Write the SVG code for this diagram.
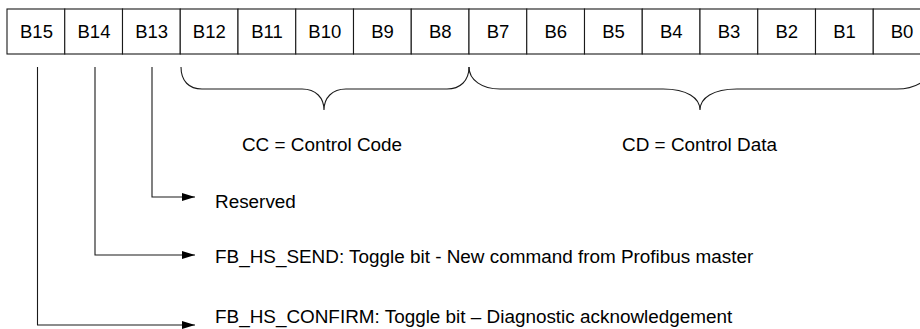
<svg xmlns="http://www.w3.org/2000/svg" width="920" height="329" viewBox="0 0 920 329">
<style>
.box{fill:#fff;stroke:#1a1a1a;stroke-width:1.1}
.t{font-family:"Liberation Sans",Arial,sans-serif;font-size:18.5px;fill:#000}
.d{font-size:18.9px}
.c{text-anchor:middle}
.ln{fill:none;stroke:#1a1a1a;stroke-width:1.1}
</style>
<defs>
<marker id="ah" viewBox="0 0 13 8" refX="13" refY="4" markerWidth="13" markerHeight="8" markerUnits="userSpaceOnUse" orient="auto">
<path d="M0,0 L13,4 L0,8 Z" fill="#000"/>
</marker>
</defs>
<rect width="920" height="329" fill="#fff"/>
<g id="register">
<g id="b15"><rect class="box" x="7" y="9" width="57.75" height="45"/><text class="t c" x="36.5" y="37.5">B15</text></g>
<g id="b14"><rect class="box" x="64.75" y="9" width="57.75" height="45"/><text class="t c" x="94" y="37.5">B14</text></g>
<g id="b13"><rect class="box" x="122.5" y="9" width="57.75" height="45"/><text class="t c" x="151.6" y="37.5">B13</text></g>
<g id="b12"><rect class="box" x="180.25" y="9" width="57.75" height="45"/><text class="t c" x="209.3" y="37.5">B12</text></g>
<g id="b11"><rect class="box" x="238" y="9" width="57.75" height="45"/><text class="t c" x="267" y="37.5">B11</text></g>
<g id="b10"><rect class="box" x="295.75" y="9" width="57.75" height="45"/><text class="t c" x="324.8" y="37.5">B10</text></g>
<g id="b9"><rect class="box" x="353.5" y="9" width="57.75" height="45"/><text class="t c" x="382.5" y="37.5">B9</text></g>
<g id="b8"><rect class="box" x="411.25" y="9" width="57.75" height="45"/><text class="t c" x="440.2" y="37.5">B8</text></g>
<g id="b7"><rect class="box" x="469" y="9" width="57.75" height="45"/><text class="t c" x="498" y="37.5">B7</text></g>
<g id="b6"><rect class="box" x="526.75" y="9" width="57.75" height="45"/><text class="t c" x="555.7" y="37.5">B6</text></g>
<g id="b5"><rect class="box" x="584.5" y="9" width="57.75" height="45"/><text class="t c" x="613.5" y="37.5">B5</text></g>
<g id="b4"><rect class="box" x="642.25" y="9" width="57.75" height="45"/><text class="t c" x="671.2" y="37.5">B4</text></g>
<g id="b3"><rect class="box" x="700" y="9" width="57.75" height="45"/><text class="t c" x="729" y="37.5">B3</text></g>
<g id="b2"><rect class="box" x="757.75" y="9" width="57.75" height="45"/><text class="t c" x="786.7" y="37.5">B2</text></g>
<g id="b1"><rect class="box" x="815.5" y="9" width="57.75" height="45"/><text class="t c" x="844.5" y="37.5">B1</text></g>
<g id="b0"><rect class="box" x="873.25" y="9" width="57.75" height="45"/><text class="t c" x="902" y="37.5">B0</text></g>
</g>
<g id="braces">
<path class="ln" d="M181,67 C181,81 189,89 202,89 L302,89 C316,89 324,98 324,110 C324,98 332,89 346,89 L447,89 C460,89 469,81 469,67"/>
<path class="ln" d="M469,67 C469,80 482,89 500,89 L663,89 C687,89 700,98 700,110 C700,98 713,89 737,89 L897,89 C915,89 931,80 931,67"/>
</g>
<g id="labels">
<text id="cc" class="t d c" x="322" y="150.5">CC = Control Code</text>
<text id="cd" class="t d c" x="699.5" y="150.5">CD = Control Data</text>
</g>
<g id="connectors">
<path class="ln" d="M152,67 L152,197 L195,197" marker-end="url(#ah)"/>
<path class="ln" d="M95,67 L95,255 L195,255" marker-end="url(#ah)"/>
<path class="ln" d="M37.5,67 L37.5,325 L195,325" marker-end="url(#ah)"/>
</g>
<g id="descriptions">
<text id="reserved" class="t d" x="215" y="208">Reserved</text>
<text id="send" class="t d" x="215" y="263">FB_HS_SEND: Toggle bit - New command from Profibus master</text>
<text id="confirm" class="t d" x="215" y="323">FB_HS_CONFIRM: Toggle bit – Diagnostic acknowledgement</text>
</g>
</svg>
